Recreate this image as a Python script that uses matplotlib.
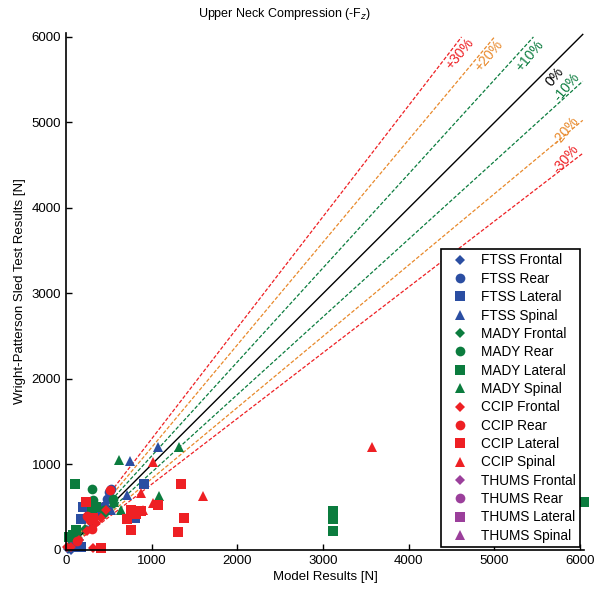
import numpy as np
import matplotlib
matplotlib.use("Agg")
import matplotlib.pyplot as plt

plt.rcParams['font.family'] = ['Liberation Sans', 'DejaVu Sans']

# colours per model
blue = '#2b4ea2'
green = '#0b7c3e'
red = '#ee2024'
purple = '#9b3f9b'
orange = '#e8892b'

# FTSS
ftss_frontal_x = [20, 60, 150, 250, 330, 420, 480]
ftss_frontal_y = [10, 5, 120, 230, 300, 420, 470]
ftss_rear_x = [300, 380, 440, 480, 500, 520]
ftss_rear_y = [330, 420, 520, 600, 680, 710]
ftss_lateral_x = [80, 120, 180, 170, 200, 286, 320, 800, 916]
ftss_lateral_y = [30, 40, 39, 359, 507, 488, 450, 371, 769]
ftss_spinal_x = [742, 1071, 711, 530]
ftss_spinal_y = [1046, 1203, 644, 470]

# MADY
mady_frontal_x = [30, 120, 220, 330, 450, 560]
mady_frontal_y = [40, 150, 250, 330, 420, 540]
mady_rear_x = [120, 305, 317, 300, 440, 550]
mady_rear_y = [200, 710, 585, 520, 470, 600]
mady_lateral_x = [104, 40, 85, 112, 300, 3121, 3121, 3121, 6040, 350]
mady_lateral_y = [773, 150, 176, 234, 490, 460, 360, 226, 566, 500]
mady_spinal_x = [620, 1322, 1083, 646, 560]
mady_spinal_y = [1050, 1210, 636, 468, 560]

# CCIP
ccip_frontal_x = [8, 60, 317, 150, 250, 350, 410, 470]
ccip_frontal_y = [31, 40, 20, 120, 220, 320, 380, 470]
ccip_rear_x = [518, 286, 300, 130, 250]
ccip_rear_y = [703, 351, 240, 100, 400]
ccip_lateral_x = [232, 414, 1342, 1380, 1303, 1071, 762, 711, 762, 880, 820, 320]
ccip_lateral_y = [566, 20, 769, 378, 214, 527, 468, 359, 234, 460, 420, 380]
ccip_spinal_x = [3570, 1593, 1013, 878, 897, 1013]
ccip_spinal_y = [1200, 632, 1034, 671, 468, 554]

# THUMS (no visible points)
thums_frontal_x, thums_frontal_y = [], []
thums_rear_x, thums_rear_y = [], []
thums_lateral_x, thums_lateral_y = [], []
thums_spinal_x, thums_spinal_y = [], []

# error bands
bands = [0.3, 0.2, 0.1, 0.0, -0.1, -0.2, -0.3]
band_labels = ['+30%', '+20%', '+10%', '0%', '-10%', '-20%', '-30%']
band_colors = [red, orange, green, 'k', green, orange, red]

fig = plt.figure(figsize=(5.95, 5.9), dpi=100)
ax = fig.add_axes([0.1109, 0.0678, 0.8714, 0.8768])

lim = 6050
for p, c in zip(bands, band_colors):
    if p > 0:
        xe = 6000 / (1 + p)
        ax.plot([0, xe], [0, 6000], '--', color=c, lw=0.9, dashes=(3, 1.5))
    elif p < 0:
        ye = 6030 / (1 - p)
        ax.plot([0, 6030], [0, ye], '--', color=c, lw=0.9, dashes=(3, 1.5))
    else:
        ax.plot([0, 6030], [0, 6030], '-', color=c, lw=1.0)

label_x = [4600, 4930, 5410, 5700, 5840, 5830, 5830]
label_y = [5800, 5780, 5780, 5540, 5420, 4900, 4570]
for lx, ly, t, c in zip(label_x, label_y, band_labels, band_colors):
    ax.text(lx, ly, t, color=c, fontsize=10, rotation=50,
            ha='center', va='center')

groups = [
    ('FTSS', blue, [ftss_frontal_x, ftss_rear_x, ftss_lateral_x, ftss_spinal_x],
     [ftss_frontal_y, ftss_rear_y, ftss_lateral_y, ftss_spinal_y]),
    ('MADY', green, [mady_frontal_x, mady_rear_x, mady_lateral_x, mady_spinal_x],
     [mady_frontal_y, mady_rear_y, mady_lateral_y, mady_spinal_y]),
    ('CCIP', red, [ccip_frontal_x, ccip_rear_x, ccip_lateral_x, ccip_spinal_x],
     [ccip_frontal_y, ccip_rear_y, ccip_lateral_y, ccip_spinal_y]),
    ('THUMS', purple, [thums_frontal_x, thums_rear_x, thums_lateral_x, thums_spinal_x],
     [thums_frontal_y, thums_rear_y, thums_lateral_y, thums_spinal_y]),
]
kinds = ['Frontal', 'Rear', 'Lateral', 'Spinal']
markers = ['D', 'o', 's', '^']
sizes = [5.5, 7, 6.5, 7.5]

handles = []
for name, c, xs, ys in groups:
    for k, m, ms, x, y in zip(kinds, markers, sizes, xs, ys):
        h, = ax.plot(x, y, linestyle='none', marker=m, color=c, markersize=ms,
                     markeredgewidth=0, label=f'{name} {k}', clip_on=False)
        handles.append(h)

ax.set_xlim(0, lim)
ax.set_ylim(0, lim)
ax.set_xticks(np.arange(0, 6001, 1000))
ax.set_yticks(np.arange(0, 6001, 1000))
ax.tick_params(direction='in', length=4, labelsize=9.5, width=1)
ax.spines['top'].set_visible(False)
ax.spines['right'].set_visible(False)
ax.spines['left'].set_linewidth(1.2)
ax.spines['bottom'].set_linewidth(1.2)

ax.set_xlabel('Model Results [N]', fontsize=9.5, labelpad=3)
ax.set_ylabel('Wright-Patterson Sled Test Results [N]', fontsize=9.5, labelpad=4)
fig.text(285 / 595, 1 - 14 / 590, 'Upper Neck Compression (-F$_z$)', fontsize=9,
         ha='center', va='center')

leg = ax.legend(handles=handles, loc='lower right', bbox_to_anchor=(0.991, 0.006),
                fontsize=9.8, frameon=True, fancybox=False, labelspacing=0.32,
                handletextpad=0.5, borderpad=0.3, handlelength=2.1,
                borderaxespad=0)
leg.get_frame().set_edgecolor('k')
leg.get_frame().set_linewidth(1.2)
leg.get_frame().set_alpha(1)

fig.savefig('out.png', dpi=100)
